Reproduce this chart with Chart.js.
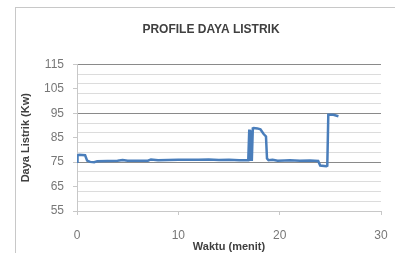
<!DOCTYPE html>
<html><head><meta charset="utf-8">
<script src="https://cdn.jsdelivr.net/npm/chart.js@4.4.0/dist/chart.umd.min.js"></script>
<style>
html,body{margin:0;padding:0;background:#fff;overflow:hidden;width:395px;height:253px;}
#frame{position:absolute;left:15px;top:7px;width:400px;height:260px;border-left:1px solid #c8c8c8;border-top:1px solid #c8c8c8;}
#wrap{position:absolute;left:0;top:0;width:396px;height:246px;}
</style></head><body>
<div id="frame"><div id="wrap"><canvas id="c"></canvas></div></div>
<script>
const titleText = "PROFILE DAYA LISTRIK";
const xTitle = "Waktu (menit)";
const yTitle = "Daya Listrik (Kw)";
const xTickValues = [0, 10, 20, 30];
const yTickLabels = [55, 65, 75, 85, 95, 105, 115];
const timeMin = [0, 0.05, 0.2, 0.5, 0.8, 1.0, 1.3, 1.7, 2.0, 3.0, 4.0, 4.5, 5.0, 6.0, 7.0, 7.3, 8.0, 9.0, 10.0, 11.0, 12.0, 13.0, 14.0, 15.0, 16.0, 16.9, 17.0, 17.05, 17.15, 17.25, 17.35, 17.45, 17.8, 18.1, 18.4, 18.65, 18.75, 18.9, 19.3, 19.8, 20.5, 21.0, 22.0, 23.0, 23.8, 24.0, 24.6, 24.7, 24.8, 25.3, 25.8];
const powerKw = [75.2, 77.8, 78.0, 77.9, 77.8, 75.6, 75.1, 75.0, 75.4, 75.5, 75.6, 75.9, 75.6, 75.6, 75.6, 76.1, 75.8, 75.9, 76.0, 76.0, 76.0, 76.1, 75.9, 76.0, 75.8, 75.8, 88.3, 75.5, 88.0, 75.5, 88.8, 89.0, 88.8, 88.4, 86.6, 85.5, 76.5, 75.8, 76.0, 75.6, 75.7, 75.8, 75.6, 75.7, 75.5, 73.6, 73.3, 73.5, 94.4, 94.4, 93.8];

const pts = timeMin.map((t, i) => ({x: t, y: powerKw[i]}));
const font = "'Liberation Sans', Arial, sans-serif";

new Chart(document.getElementById('c'), {
  type: 'scatter',
  data: { datasets: [{
    data: pts, showLine: true, borderColor: '#4a7ebb', borderWidth: 2.5,
    pointRadius: 0, tension: 0, fill: false
  }]},
  options: {
    responsive: true, maintainAspectRatio: false, animation: false,
    layout: { padding: { left: 25, right: 31, top: 0, bottom: 0 } },
    plugins: {
      legend: { display: false }, tooltip: { enabled: false },
      title: { display: true, text: titleText, color: '#404040',
        font: { family: font, size: 12, weight: 'bold' }, padding: { top: 14, bottom: 28 } }
    },
    scales: {
      x: { type: 'linear', min: 0, max: 30,
        afterBuildTicks: s => { s.ticks = xTickValues.map(v => ({value: v})); },
        afterFit: s => { s.height = 43; },
        border: { color: '#c8c8c8', width: 1 },
        grid: { drawOnChartArea: false, color: '#c8c8c8', tickLength: 4, offset: false },
        ticks: { color: '#777', font: { family: font, size: 12 }, padding: 13, maxRotation: 0 },
        title: { display: true, text: xTitle, color: '#404040',
          font: { family: font, size: 11, weight: 'bold' }, padding: { top: -6, bottom: 0 } }
      },
      y: { min: 55, max: 115,
        afterBuildTicks: s => { const t = []; for (let v = 55; v <= 115; v++) t.push({value: v}); s.ticks = t; },
        afterFit: s => { s.width = 36; },
        border: { color: '#c8c8c8', width: 1 },
        grid: {
          color: c => { const v = c.tick.value - 55; if (v === 0) return '#d0d0d0'; if (v % 20 === 0) return '#8a8a8a'; if (v % 4 === 0) return '#dcdcdc'; return 'rgba(0,0,0,0)'; },
          tickColor: c => ((c.tick.value - 55) % 10 === 0 ? '#c8c8c8' : 'rgba(0,0,0,0)'),
          tickLength: 4, lineWidth: 1
        },
        ticks: { autoSkip: false, color: '#777', font: { family: font, size: 12 }, padding: 9,
          callback: v => (yTickLabels.includes(v) ? String(v) : '') },
        title: { display: true, text: yTitle, color: '#404040',
          font: { family: font, size: 11, weight: 'bold' }, padding: { top: -22, bottom: 0 } }
      }
    }
  }
});
</script>
</body></html>
